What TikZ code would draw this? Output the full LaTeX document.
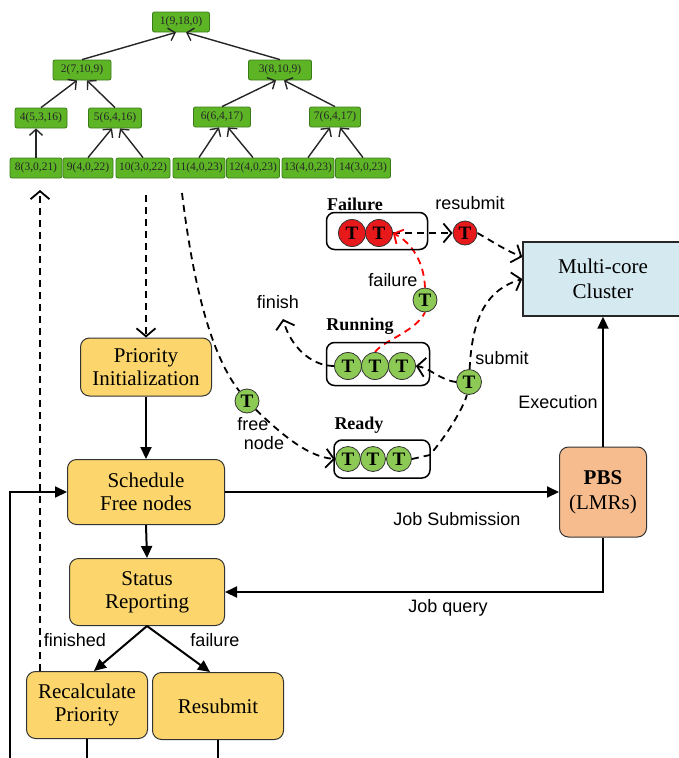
\documentclass[tikz,border=0pt]{standalone}
\usepackage{fontspec}
\setmainfont{Liberation Serif}
\newfontfamily\labfont{Liberation Sans}
\usetikzlibrary{arrows.meta,calc}
\pgfdeclarelayer{bg}
\pgfsetlayers{bg,main}
\definecolor{treegreen}{HTML}{5DB526}
\definecolor{treeborder}{HTML}{3B7A1A}
\definecolor{boxyellow}{HTML}{FCD66C}
\definecolor{tgreen}{HTML}{8DC955}
\definecolor{tred}{HTML}{E8191B}
\definecolor{pbsfill}{HTML}{F7BC8E}
\definecolor{clusterfill}{HTML}{D5E9F1}
\begin{document}
\begin{tikzpicture}[x=1pt,y=-1pt,
  tnode/.style={draw=treeborder, fill=treegreen, rounded corners=2pt, line width=0.8pt,
    minimum height=20pt, minimum width=#1, inner sep=0pt, font=\fontsize{11.5}{12}\selectfont, text=black!85},
  tnode/.default=54,
  tarr/.style={-{Straight Barb[length=6pt,width=13pt]}, line width=1.4pt, black!85},
  flow/.style={draw=black!80, fill=boxyellow, rounded corners=9pt, line width=1pt, align=center,
    inner sep=0pt, font=\fontsize{21}{23}\selectfont},
  sarr/.style={-{Triangle[length=12pt,width=11pt]}, line width=2pt},
  dsh/.style={dash pattern=on 7pt off 5pt, line width=1.8pt},
  darr/.style={dsh, -{Straight Barb[length=8pt,width=19pt]}},
  qbox/.style={draw, line width=1.5pt, rounded corners=8pt, inner sep=0pt},
  tc/.style={circle, draw=black!80, line width=0.8pt, inner sep=0pt, minimum size=#1,
    font=\bfseries\fontsize{19}{19}\selectfont},
  lab/.style={font=\labfont\fontsize{18}{18}\selectfont, inner sep=0pt},
  qlab/.style={font=\bfseries\fontsize{18}{18}\selectfont, inner sep=0pt}
]
\useasboundingbox (0,0) rectangle (678,758);

% tree
\node[tnode=57] (t1) at (181,22) {1(9,18,0)};
\node[tnode=58] (t2) at (82,70) {2(7,10,9)};
\node[tnode=63] (t3) at (280,70) {3(8,10,9)};
\node[tnode=52] (t4) at (41,118) {4(5,3,16)};
\node[tnode=53] (t5) at (115,118) {5(6,4,16)};
\node[tnode=57] (t6) at (222,117) {6(6,4,17)};
\node[tnode=51] (t7) at (335,117) {7(6,4,17)};
\node[tnode=52] (t8) at (36,168) {8(3,0,21)};
\node[tnode=50] (t9) at (88,168) {9(4,0,22)};
\node[tnode=54] (t10) at (143,168) {10(3,0,22)};
\node[tnode=52] (t11) at (199,168) {11(4,0,23)};
\node[tnode=53] (t12) at (253,168) {12(4,0,23)};
\node[tnode=52] (t13) at (308,168) {13(4,0,23)};
\node[tnode=55] (t14) at (363,168) {14(3,0,23)};

\draw[tarr] (t2.north) -- ([xshift=-5pt]t1.south);
\draw[tarr] (t3.north) -- ([xshift=5pt]t1.south);
\draw[tarr] (t4.north) -- ([xshift=-5pt]t2.south);
\draw[tarr] (t5.north) -- ([xshift=5pt]t2.south);
\draw[tarr] (t6.north) -- ([xshift=-4pt]t3.south);
\draw[tarr] (t7.north) -- ([xshift=4pt]t3.south);
\draw[tarr] (t8.north) -- (t8.north |- t4.south);
\draw[tarr] (t9.north) -- ([xshift=-3pt]t5.south);
\draw[tarr] (t10.north) -- ([xshift=5pt]t5.south);
\draw[tarr] (t11.north) -- ([xshift=-3pt]t6.south);
\draw[tarr] (t12.north) -- ([xshift=6pt]t6.south);
\draw[tarr] (t13.north) -- ([xshift=-5pt]t7.south);
\draw[tarr] (t14.north) -- ([xshift=5pt]t7.south);

% flow boxes
\node[flow, minimum width=131pt, minimum height=58pt] (prio) at (146,367) {Priority\\Initialization};
\node[flow, minimum width=157pt, minimum height=65pt] (sched) at (146,492) {Schedule\\Free nodes};
\node[flow, minimum width=155pt, minimum height=67pt] (status) at (147,592) {Status\\Reporting};
\node[flow, minimum width=121pt, minimum height=67pt] (recalc) at (87,705) {Recalculate\\Priority};
\node[flow, minimum width=131pt, minimum height=67pt] (resub) at (218,706) {Resubmit};
\node[flow, fill=pbsfill, minimum width=87pt, minimum height=90pt, font=\fontsize{21}{25}\selectfont] (pbs) at (603,492) {\textbf{PBS}\\(LMRs)};
\node[draw=black!85, fill=clusterfill, line width=1.4pt, minimum width=160pt, minimum height=74pt,
  align=center, inner sep=0pt, font=\fontsize{21}{25}\selectfont] (cluster) at (603,279) {Multi-core\\Cluster};

% queues
\node[qbox, minimum width=101pt, minimum height=37pt] (qfail) at (377,231) {};
\node[qbox, minimum width=103pt, minimum height=43pt] (qrun) at (378,364) {};
\node[qbox, minimum width=96pt, minimum height=38pt] (qready) at (382,459) {};
\node[qlab] at (355,204) {Failure};
\node[qlab] at (360,326) {Running};
\node[qlab] at (359,425) {Ready};

\node[tc=27pt, fill=tred] (f1) at (352,233) {T};
\node[tc=27pt, fill=tred] (f2) at (379,233) {T};
\node[tc=24pt, fill=tred] (fr) at (465,233) {T};
\node[tc=27pt, fill=tgreen] (r1) at (348,366) {T};
\node[tc=27pt, fill=tgreen] (r2) at (375,366) {T};
\node[tc=27pt, fill=tgreen] (r3) at (402,366) {T};
\node[tc=25pt, fill=tgreen] (d1) at (348,459) {T};
\node[tc=25pt, fill=tgreen] (d2) at (373,459) {T};
\node[tc=25pt, fill=tgreen] (d3) at (399,459) {T};
\node[tc=24pt, fill=tgreen] (fl) at (425,300) {T};
\node[tc=25pt, fill=tgreen] (sb) at (469,382) {T};
\node[tc=24pt, fill=tgreen] (fn) at (247,401) {T};

% labels
\node[lab] at (470,203) {resubmit};
\node[lab] at (393,280) {failure};
\node[lab] at (278,302) {finish};
\node[lab] at (502,358) {submit};
\node[lab] at (253,424) {free};
\node[lab] at (264,443) {node};
\node[lab] at (558,402) {Execution};
\node[lab] at (457,519) {Job Submission};
\node[lab] at (448,608) {Job query};
\node[lab] at (75,640) {finished};
\node[lab] at (215,640) {failure};

\coordinate (upend) at (40,190);
\coordinate (prstart) at (146,195);
\coordinate (fnstart) at (182,193);
\coordinate (finishpt) at (283,319);
\coordinate (fb) at (10,758);

\begin{pgfonlayer}{bg}
% dashed connectors
\draw[darr] (recalc.north -| upend) -- (upend);
\draw[darr] (prstart) -- (prio.north);
\draw[dsh] (fnstart) .. controls (195,300) and (215,360) .. (fn);
\draw[darr] (fn) .. controls (285,438) and (310,457) .. (d1.west);
\draw[dsh] (d3.east) -- ++(18,-4) .. controls (455,425) and (466,400) .. (sb);
\draw[darr] (sb) .. controls (472,320) and (485,290) .. (cluster.west);
\draw[darr] (sb.west) .. controls (440,380) and (430,368) .. (r3.east);
\draw[darr] (r1.west) .. controls (310,366) and (290,345) .. (finishpt);
\draw[darr] (f2.east) -- (fr.west);
\draw[darr] (fr.east) .. controls (495,243) and (505,250) .. ([yshift=22pt]cluster.west);
\draw[dsh, red] (r2.north) .. controls (384,340) and (415,332) .. (fl.south);
\draw[dsh, red, -{Straight Barb[length=7pt,width=16pt]}] (fl.north) .. controls (424,262) and (412,243) .. (f2.east);
\end{pgfonlayer}

% solid connectors
\draw[sarr] (prio.south) -- (sched.north);
\draw[sarr] (sched.south) -- (status.north);
\draw[sarr] (status.south) -- ([xshift=7pt]recalc.north);
\draw[sarr] (status.south) -- ([xshift=-8pt]resub.north);
\draw[sarr] (sched.east) -- (pbs.west);
\draw[sarr] (pbs.south) |- (status.east);
\draw[sarr] (pbs.north) -- (cluster.south);
\draw[sarr] (fb) |- (sched.west);
\draw[line width=2pt] (recalc.south) -- (recalc.south |- fb);
\draw[line width=2pt] (resub.south) -- (resub.south |- fb);
\end{tikzpicture}
\end{document}
